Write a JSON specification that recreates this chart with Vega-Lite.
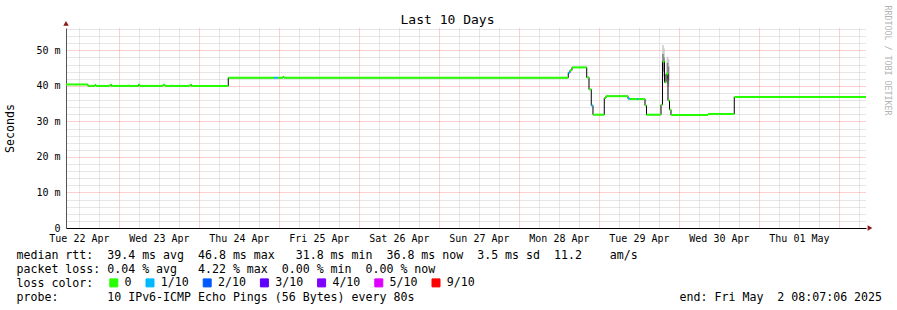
{
  "$schema": "https://vega.github.io/schema/vega-lite/v6.json",
  "width": 800,
  "height": 200,
  "autosize": {"type": "none"},
  "padding": {"left": 66, "top": 28, "right": 31, "bottom": 82},
  "background": "#ffffff",
  "config": {
    "view": {"stroke": null},
    "font": "DejaVu Sans Mono",
    "axis": {"labelFont": "DejaVu Sans Mono", "titleFont": "DejaVu Sans Mono", "titleFontWeight": "normal"}
  },
  "title": {
    "text": "Last 10 Days",
    "font": "DejaVu Sans Mono",
    "fontSize": 13,
    "fontWeight": "normal",
    "color": "#000000",
    "anchor": "middle",
    "frame": "group",
    "dx": -18.5,
    "offset": -32,
    "baseline": "alphabetic"
  },
  "datasets": {
    "median": [
      {"start": "2025-04-22T08:07:06Z", "end": "2025-04-22T14:43:00Z", "rtt": 40.4, "loss": "0"},
      {"start": "2025-04-22T14:43:00Z", "end": "2025-04-22T16:49:00Z", "rtt": 40.0, "loss": "0"},
      {"start": "2025-04-22T16:49:00Z", "end": "2025-04-22T17:07:00Z", "rtt": 40.3, "loss": "0"},
      {"start": "2025-04-22T17:07:00Z", "end": "2025-04-22T21:19:00Z", "rtt": 40.0, "loss": "0"},
      {"start": "2025-04-22T21:19:00Z", "end": "2025-04-22T21:46:00Z", "rtt": 40.3, "loss": "0"},
      {"start": "2025-04-22T21:46:00Z", "end": "2025-04-23T05:52:00Z", "rtt": 40.0, "loss": "0"},
      {"start": "2025-04-23T05:52:00Z", "end": "2025-04-23T06:19:00Z", "rtt": 40.3, "loss": "0"},
      {"start": "2025-04-23T06:19:00Z", "end": "2025-04-23T13:13:00Z", "rtt": 40.0, "loss": "0"},
      {"start": "2025-04-23T13:13:00Z", "end": "2025-04-23T13:49:00Z", "rtt": 40.3, "loss": "0"},
      {"start": "2025-04-23T13:49:00Z", "end": "2025-04-23T21:19:00Z", "rtt": 40.0, "loss": "0"},
      {"start": "2025-04-23T21:19:00Z", "end": "2025-04-23T21:46:00Z", "rtt": 40.3, "loss": "0"},
      {"start": "2025-04-23T21:46:00Z", "end": "2025-04-24T08:48:00Z", "rtt": 40.0, "loss": "0"},
      {"start": "2025-04-24T08:48:00Z", "end": "2025-04-24T22:31:00Z", "rtt": 42.3, "loss": "0"},
      {"start": "2025-04-24T22:31:00Z", "end": "2025-04-24T23:38:00Z", "rtt": 42.3, "loss": "1/10"},
      {"start": "2025-04-24T23:38:00Z", "end": "2025-04-25T01:13:00Z", "rtt": 42.3, "loss": "0"},
      {"start": "2025-04-25T01:13:00Z", "end": "2025-04-25T01:31:00Z", "rtt": 42.6, "loss": "0"},
      {"start": "2025-04-25T01:31:00Z", "end": "2025-04-28T14:48:00Z", "rtt": 42.3, "loss": "0"},
      {"start": "2025-04-28T14:48:00Z", "end": "2025-04-28T15:19:00Z", "rtt": 43.7, "loss": "1/10"},
      {"start": "2025-04-28T15:19:00Z", "end": "2025-04-28T15:55:00Z", "rtt": 44.4, "loss": "0"},
      {"start": "2025-04-28T15:55:00Z", "end": "2025-04-28T20:20:00Z", "rtt": 45.2, "loss": "0"},
      {"start": "2025-04-28T20:20:00Z", "end": "2025-04-28T21:01:00Z", "rtt": 42.4, "loss": "0"},
      {"start": "2025-04-28T21:01:00Z", "end": "2025-04-28T21:42:00Z", "rtt": 39.0, "loss": "0"},
      {"start": "2025-04-28T21:42:00Z", "end": "2025-04-28T22:13:00Z", "rtt": 34.5, "loss": "1/10"},
      {"start": "2025-04-28T22:13:00Z", "end": "2025-04-29T01:36:00Z", "rtt": 31.9, "loss": "0"},
      {"start": "2025-04-29T01:36:00Z", "end": "2025-04-29T02:07:00Z", "rtt": 36.6, "loss": "0"},
      {"start": "2025-04-29T02:07:00Z", "end": "2025-04-29T08:43:00Z", "rtt": 37.1, "loss": "0"},
      {"start": "2025-04-29T08:43:00Z", "end": "2025-04-29T09:19:00Z", "rtt": 36.4, "loss": "1/10"},
      {"start": "2025-04-29T09:19:00Z", "end": "2025-04-29T11:25:00Z", "rtt": 36.3, "loss": "0"},
      {"start": "2025-04-29T11:25:00Z", "end": "2025-04-29T11:52:00Z", "rtt": 36.3, "loss": "1/10"},
      {"start": "2025-04-29T11:52:00Z", "end": "2025-04-29T13:49:00Z", "rtt": 36.3, "loss": "0"},
      {"start": "2025-04-29T13:49:00Z", "end": "2025-04-29T14:16:00Z", "rtt": 34.5, "loss": "0"},
      {"start": "2025-04-29T14:16:00Z", "end": "2025-04-29T18:37:00Z", "rtt": 31.9, "loss": "0"},
      {"start": "2025-04-29T18:37:00Z", "end": "2025-04-29T19:04:00Z", "rtt": 34.7, "loss": "0"},
      {"start": "2025-04-29T19:04:00Z", "end": "2025-04-29T19:40:00Z", "rtt": 46.8, "loss": "0"},
      {"start": "2025-04-29T19:40:00Z", "end": "2025-04-29T20:07:00Z", "rtt": 41.0, "loss": "0"},
      {"start": "2025-04-29T20:07:00Z", "end": "2025-04-29T20:43:00Z", "rtt": 43.4, "loss": "0"},
      {"start": "2025-04-29T20:43:00Z", "end": "2025-04-29T21:10:00Z", "rtt": 35.9, "loss": "0"},
      {"start": "2025-04-29T21:10:00Z", "end": "2025-04-29T21:37:00Z", "rtt": 33.3, "loss": "0"},
      {"start": "2025-04-29T21:37:00Z", "end": "2025-04-30T08:43:00Z", "rtt": 31.8, "loss": "0"},
      {"start": "2025-04-30T08:43:00Z", "end": "2025-04-30T16:36:00Z", "rtt": 32.1, "loss": "0"},
      {"start": "2025-04-30T16:36:00Z", "end": "2025-05-02T08:07:06Z", "rtt": 36.9, "loss": "0"}
    ],
    "smoke": [
      {"t": "2025-04-29T19:13:00Z", "lo1": 43.0, "hi1": 51.5, "lo2": 44.5, "hi2": 49.0},
      {"t": "2025-04-29T19:31:00Z", "lo1": 42.5, "hi1": 50.5, "lo2": 44.0, "hi2": 48.0},
      {"t": "2025-04-29T20:34:00Z", "lo1": 40.5, "hi1": 48.2, "lo2": 42.0, "hi2": 46.5},
      {"t": "2025-04-29T20:52:00Z", "lo1": 40.0, "hi1": 47.5, "lo2": 41.5, "hi2": 45.5}
    ]
  },
  "layer": [
    {
      "data": {"name": "smoke"},
      "mark": {"type": "rule", "color": "#cccccc", "strokeWidth": 1.6},
      "encoding": {
        "x": {"field": "t", "type": "temporal", "axis": null},
        "y": {"field": "lo1", "type": "quantitative", "axis": null},
        "y2": {"field": "hi1"}
      }
    },
    {
      "data": {"name": "smoke"},
      "mark": {"type": "rule", "color": "#888888", "strokeWidth": 1.6},
      "encoding": {
        "x": {"field": "t", "type": "temporal", "axis": null},
        "y": {"field": "lo2", "type": "quantitative", "axis": null},
        "y2": {"field": "hi2"}
      }
    },
    {
      "data": {"name": "median"},
      "mark": {"type": "line", "interpolate": "step-after", "color": "#000000", "strokeWidth": 1},
      "encoding": {
        "x": {"field": "start", "type": "temporal", "axis": null},
        "y": {
          "field": "rtt",
          "type": "quantitative",
          "axis": {
            "orient": "right",
            "title": "RRDTOOL / TOBI OETIKER",
            "titleFont": "DejaVu Sans Mono",
            "titleFontSize": 8.3,
            "titleFontWeight": "normal",
            "titleColor": "#b4b4b4",
            "titleAngle": 90,
            "titleX": 20,
            "titleY": -23,
            "titleAlign": "left",
            "titleBaseline": "middle",
            "labels": false,
            "ticks": false,
            "domain": false,
            "grid": false
          }
        }
      }
    },
    {
      "data": {"name": "median"},
      "mark": {"type": "rule", "strokeWidth": 2, "strokeCap": "butt"},
      "encoding": {
        "x": {
          "field": "start",
          "type": "temporal",
          "scale": {
            "type": "utc",
            "domain": [
              {"year": 2025, "month": 4, "date": 22, "hours": 8, "minutes": 7, "seconds": 6, "utc": true},
              {"year": 2025, "month": 5, "date": 2, "hours": 8, "minutes": 7, "seconds": 6, "utc": true}
            ],
            "nice": false
          },
          "axis": {
            "orient": "bottom",
            "values": [1745323200000, 1745344800000, 1745366400000, 1745388000000, 1745409600000, 1745431200000, 1745452800000, 1745474400000, 1745496000000, 1745517600000, 1745539200000, 1745560800000, 1745582400000, 1745604000000, 1745625600000, 1745647200000, 1745668800000, 1745690400000, 1745712000000, 1745733600000, 1745755200000, 1745776800000, 1745798400000, 1745820000000, 1745841600000, 1745863200000, 1745884800000, 1745906400000, 1745928000000, 1745949600000, 1745971200000, 1745992800000, 1746014400000, 1746036000000, 1746057600000, 1746079200000, 1746100800000, 1746122400000, 1746144000000, 1746165600000],
            "grid": true,
            "gridColor": {"condition": {"test": "utchours(datum.value) === 0", "value": "#ff5f5f"}, "value": "#c0c0c0"},
            "gridOpacity": {"condition": {"test": "utchours(datum.value) === 0", "value": 0.6}, "value": 0.8},
            "gridDash": [1, 1],
            "gridWidth": 1,
            "ticks": false,
            "tickSize": 0,
            "domain": true,
            "domainColor": "#000000",
            "domainWidth": 1,
            "labelExpr": "utchours(datum.value) === 0 ? utcFormat(datum.value - 86400000, '%a %d %b') : ''",
            "labelOffset": -40,
            "labelFont": "DejaVu Sans Mono",
            "labelFontSize": 10,
            "labelColor": "#000000",
            "labelBaseline": "alphabetic",
            "labelAlign": "center",
            "labelPadding": 13,
            "labelOverlap": false,
            "labelBound": false,
            "labelFlush": false,
            "title": [
              "median\u00a0rtt:\u00a0\u00a039.4\u00a0ms\u00a0avg\u00a0\u00a046.8\u00a0ms\u00a0max\u00a0\u00a0\u00a031.8\u00a0ms\u00a0min\u00a0\u00a036.8\u00a0ms\u00a0now\u00a0\u00a03.5\u00a0ms\u00a0sd\u00a0\u00a011.2\u00a0\u00a0\u00a0\u00a0am/s",
              "packet\u00a0loss:\u00a00.04\u00a0%\u00a0avg\u00a0\u00a0\u00a04.22\u00a0%\u00a0max\u00a0\u00a00.00\u00a0%\u00a0min\u00a0\u00a00.00\u00a0%\u00a0now",
              "loss\u00a0color:",
              "probe:\u00a0\u00a0\u00a0\u00a0\u00a0\u00a0\u00a010\u00a0IPv6-ICMP\u00a0Echo\u00a0Pings\u00a0(56\u00a0Bytes)\u00a0every\u00a080s\u00a0\u00a0\u00a0\u00a0\u00a0\u00a0\u00a0\u00a0\u00a0\u00a0\u00a0\u00a0\u00a0\u00a0\u00a0\u00a0\u00a0\u00a0\u00a0\u00a0\u00a0\u00a0\u00a0\u00a0\u00a0\u00a0\u00a0\u00a0\u00a0\u00a0\u00a0\u00a0\u00a0\u00a0\u00a0\u00a0\u00a0\u00a0end:\u00a0Fri\u00a0May\u00a0\u00a02\u00a008:07:06\u00a02025"
            ],
            "titleFont": "DejaVu Sans Mono",
            "titleFontSize": 11.6,
            "titleFontWeight": "normal",
            "titleColor": "#000000",
            "titleAlign": "left",
            "titleAnchor": "start",
            "titleAngle": 0,
            "titleX": -50,
            "titleY": 30,
            "titleBaseline": "alphabetic",
            "titleLineHeight": 14
          }
        },
        "x2": {"field": "end"},
        "y": {
          "field": "rtt",
          "type": "quantitative",
          "scale": {"domain": [0, 56.3], "nice": false, "zero": true},
          "axis": {
            "orient": "left",
            "values": [0, 2, 4, 6, 8, 10, 12, 14, 16, 18, 20, 22, 24, 26, 28, 30, 32, 34, 36, 38, 40, 42, 44, 46, 48, 50, 52, 54, 56],
            "grid": true,
            "gridColor": {"condition": {"test": "datum.value % 10 === 0", "value": "#ff5f5f"}, "value": "#c0c0c0"},
            "gridOpacity": {"condition": {"test": "datum.value % 10 === 0", "value": 0.6}, "value": 0.8},
            "gridDash": [1, 1],
            "gridWidth": 1,
            "ticks": false,
            "tickSize": 0,
            "domain": true,
            "domainColor": "#555555",
            "domainWidth": 1,
            "labelExpr": "datum.value % 10 === 0 ? (datum.value === 0 ? '0\u00a0' : datum.value + '\u00a0m') : ''",
            "labelFont": "DejaVu Sans Mono",
            "labelFontSize": 10,
            "labelColor": "#000000",
            "labelAlign": "right",
            "labelBaseline": "middle",
            "labelPadding": 6,
            "labelOverlap": false,
            "labelBound": false,
            "labelFlush": false,
            "title": "Seconds",
            "titleFont": "DejaVu Sans Mono",
            "titleFontSize": 11.6,
            "titleFontWeight": "normal",
            "titleColor": "#000000",
            "titleAngle": -90,
            "titleX": -55.5,
            "titleY": 100,
            "titleAlign": "center",
            "titleBaseline": "middle"
          }
        },
        "color": {
          "field": "loss",
          "type": "nominal",
          "scale": {
            "domain": ["0", "1/10", "2/10", "3/10", "4/10", "5/10", "9/10"],
            "range": ["#26ff00", "#00b8ff", "#0059ff", "#5e00ff", "#7e00ff", "#dd00ff", "#ff0000"]
          },
          "legend": {
            "orient": "none",
            "legendX": 42,
            "legendY": 249,
            "direction": "horizontal",
            "title": null,
            "padding": 0,
            "symbolType": "square",
            "symbolSize": 64,
            "symbolStrokeColor": "#000000",
            "symbolStrokeWidth": 1,
            "labelFont": "DejaVu Sans Mono",
            "labelFontSize": 11.6,
            "labelColor": "#000000",
            "labelOffset": 5,
            "labelLimit": 0,
            "columnPadding": 11.2,
            "encode": {
              "symbols": {
                "update": {
                  "fill": {"scale": "color", "field": "value"},
                  "stroke": {"value": "#000000"},
                  "fillOpacity": {"value": 1},
                  "opacity": {"value": 1}
                }
              }
            }
          }
        }
      }
    },
    {
      "data": {"values": [{}]},
      "mark": {"type": "point", "shape": "triangle-up", "filled": true, "color": "#8b1a1a", "size": 30, "opacity": 1},
      "encoding": {
        "x": {"datum": {"year": 2025, "month": 4, "date": 22, "hours": 8, "minutes": 7, "seconds": 6, "utc": true}, "type": "temporal", "axis": null},
        "y": {"datum": 57.6, "type": "quantitative", "axis": null}
      }
    },
    {
      "data": {"values": [{}]},
      "mark": {"type": "point", "shape": "triangle-right", "filled": true, "color": "#8b1a1a", "size": 30, "opacity": 1},
      "encoding": {
        "x": {"datum": {"year": 2025, "month": 5, "date": 2, "hours": 9, "minutes": 19, "utc": true}, "type": "temporal", "axis": null},
        "y": {"datum": 0, "type": "quantitative", "axis": null}
      }
    }
  ],
  "resolve": {"axis": {"x": "independent", "y": "independent"}}
}
